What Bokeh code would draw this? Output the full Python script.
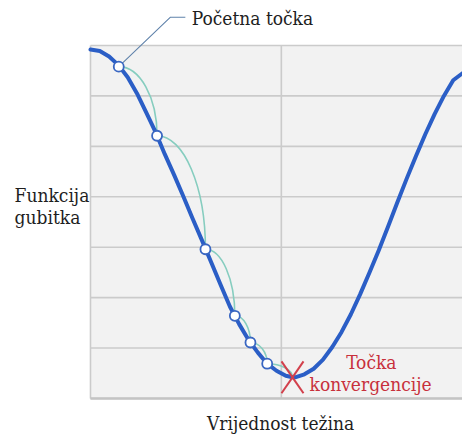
import math
from bokeh.plotting import figure
from bokeh.models import Range1d, Label, BoxAnnotation
from bokeh.embed import file_html
from bokeh.resources import INLINE

# ---- data (weight value vs. loss) ----
weight = [0, 0.25, 0.5, 0.75, 1.0, 1.25, 1.5, 1.75, 2.0, 2.25, 2.5, 2.75, 3.0,
          3.25, 3.5, 3.75, 4.0, 4.25, 4.5, 4.75, 5.0, 5.25, 5.43, 5.5, 5.75, 6.0,
          6.25, 6.5, 6.75, 7.0, 7.25, 7.5, 7.75, 8.0, 8.25, 8.5, 8.75, 9.0,
          9.25, 9.5, 9.75, 10.0]
loss = [6.92, 6.89, 6.78, 6.61, 6.37, 6.05, 5.67, 5.28, 4.84, 4.43, 4.00, 3.56,
        3.13, 2.69, 2.25, 1.82, 1.47, 1.16, 0.91, 0.69, 0.55, 0.45, 0.42, 0.42,
        0.48, 0.59, 0.77, 1.02, 1.32, 1.67, 2.07, 2.50, 2.94, 3.41, 3.89, 4.36,
        4.81, 5.24, 5.64, 6.00, 6.31, 6.45]

# gradient-descent steps
step_w = [0.76, 1.79, 3.09, 3.88, 4.30, 4.75]
step_loss = [6.58, 5.21, 2.96, 1.64, 1.11, 0.69]

# convergence point
conv_w = [5.43]
conv_loss = [0.42]

# grid
grid_levels = [0, 1, 2, 3, 4, 5, 6, 7]
vgrid_w = [5.13]
w_min, w_max = 0.0, 10.0
loss_min, loss_max = 0.0, 7.0

# texts
start_label = "Početna točka"
conv_label = ["Točka", "konvergencije"]
ylabel_lines = ["Funkcija", "gubitka"]
xlabel = "Vrijednost težina"

FONT = "DejaVu Serif Condensed"
BLUE = "#2b5ec6"
TEAL = "#86cdbf"
RED = "#c8303c"
GRID = "#cbcbcb"

p = figure(width=462, height=436, output_backend="svg", toolbar_location=None,
           x_range=Range1d(-2.419, 10.0), y_range=Range1d(-0.7535, 7.892),
           x_axis_type=None, y_axis_type=None,
           min_border_left=0, min_border_right=0, min_border_top=0, min_border_bottom=0)
p.outline_line_color = None
p.background_fill_color = "white"
p.border_fill_color = "white"

# plot area background
p.add_layout(BoxAnnotation(left=w_min, right=w_max, bottom=loss_min, top=loss_max,
                           fill_color="#f2f2f2", fill_alpha=1.0, line_color=None,
                           level="underlay"))

# horizontal grid lines
p.segment(x0=[w_min] * len(grid_levels), x1=[w_max] * len(grid_levels),
          y0=grid_levels, y1=grid_levels, line_color=GRID, line_width=1.6)
# vertical grid line + left border
p.segment(x0=vgrid_w + [w_min], x1=vgrid_w + [w_min],
          y0=[loss_min, loss_min], y1=[loss_max, loss_max], line_color=GRID, line_width=1.6)
# bottom border slightly heavier
p.segment(x0=[w_min], x1=[w_max], y0=[loss_min], y1=[loss_min], line_color="#c4c4c4", line_width=2.5)

# teal quarter-ellipse arcs between consecutive steps
K = 0.5523
end_w = step_w[1:] + conv_w
end_l = step_loss[1:] + conv_loss
cx0 = [a + K * (b - a) for a, b in zip(step_w, end_w)]
cy0 = list(step_loss)
cx1 = list(end_w)
cy1 = [b + K * (a - b) for a, b in zip(step_loss, end_l)]
p.bezier(x0=step_w, y0=step_loss, x1=end_w, y1=end_l,
         cx0=cx0, cy0=cy0, cx1=cx1, cy1=cy1, line_color=TEAL, line_width=1.6)

# loss curve
p.line(weight, loss, line_color=BLUE, line_width=4, line_join="round", line_cap="round")

# leader line to "Početna točka"
p.line([step_w[0], 2.15, 2.55], [step_loss[0], 7.561, 7.561], line_color="#5f82aa", line_width=1.1)

# step points
p.scatter(step_w, step_loss, marker="circle", size=10, fill_color="white",
          line_color="#3a67c2", line_width=1.8)

# red X at convergence
a = math.atan2(16, 11)
angles = [a, math.pi - a, math.pi + a, 2 * math.pi - a]
p.ray(x=conv_w * 4, y=conv_loss * 4, length=19.4, length_units="screen",
      angle=angles, line_color="#d2404c", line_width=2)

DY = 0.16  # lift labels to match reference baselines

def lab(x, y, text, align="left", color="#1e1e1e", size="19px"):
    p.add_layout(Label(x=x, y=y + DY, text=text, text_font=FONT, text_font_size=size,
                       text_color=color, text_align=align, text_baseline="alphabetic"))

lab(2.72, 7.376, start_label)
lab(-2.04, 3.867, ylabel_lines[0])
lab(-2.04, 3.43, ylabel_lines[1])
lab(5.11, -0.648, xlabel, align="center")
lab(7.55, 0.555, conv_label[0], align="center", color=RED)
lab(7.53, 0.125, conv_label[1], align="center", color=RED)

open("out.html", "w").write(file_html(p, INLINE))
